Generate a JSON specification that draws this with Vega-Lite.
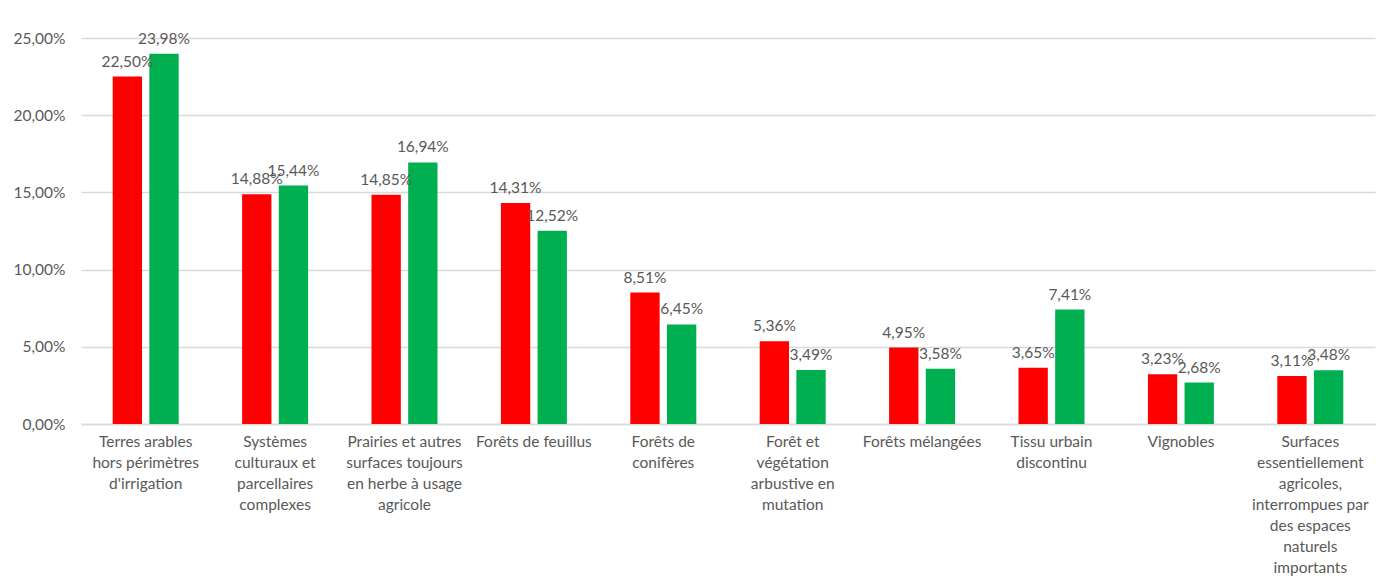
{
  "$schema": "https://vega.github.io/schema/vega-lite/v6.json",
  "autosize": {"type": "none"},
  "padding": {"left": 81, "top": 38, "right": 9, "bottom": 158},
  "width": 1294,
  "height": 386,
  "background": "white",
  "config": {
    "locale": {"number": {"decimal": ",", "thousands": " ", "grouping": [3], "currency": ["", " €"]}},
    "view": {"stroke": null},
    "font": "Lato"
  },
  "data": {
    "values": [
      {"categorie": "Terres arables\nhors périmètres\nd'irrigation", "serie": "Série 1", "part": 0.2250},
      {"categorie": "Terres arables\nhors périmètres\nd'irrigation", "serie": "Série 2", "part": 0.2398},
      {"categorie": "Systèmes\nculturaux et\nparcellaires\ncomplexes", "serie": "Série 1", "part": 0.1488},
      {"categorie": "Systèmes\nculturaux et\nparcellaires\ncomplexes", "serie": "Série 2", "part": 0.1544},
      {"categorie": "Prairies et autres\nsurfaces toujours\nen herbe à usage\nagricole", "serie": "Série 1", "part": 0.1485},
      {"categorie": "Prairies et autres\nsurfaces toujours\nen herbe à usage\nagricole", "serie": "Série 2", "part": 0.1694},
      {"categorie": "Forêts de feuillus", "serie": "Série 1", "part": 0.1431},
      {"categorie": "Forêts de feuillus", "serie": "Série 2", "part": 0.1252},
      {"categorie": "Forêts de\nconifères", "serie": "Série 1", "part": 0.0851},
      {"categorie": "Forêts de\nconifères", "serie": "Série 2", "part": 0.0645},
      {"categorie": "Forêt et\nvégétation\narbustive en\nmutation", "serie": "Série 1", "part": 0.0536},
      {"categorie": "Forêt et\nvégétation\narbustive en\nmutation", "serie": "Série 2", "part": 0.0349},
      {"categorie": "Forêts mélangées", "serie": "Série 1", "part": 0.0495},
      {"categorie": "Forêts mélangées", "serie": "Série 2", "part": 0.0358},
      {"categorie": "Tissu urbain\ndiscontinu", "serie": "Série 1", "part": 0.0365},
      {"categorie": "Tissu urbain\ndiscontinu", "serie": "Série 2", "part": 0.0741},
      {"categorie": "Vignobles", "serie": "Série 1", "part": 0.0323},
      {"categorie": "Vignobles", "serie": "Série 2", "part": 0.0268},
      {"categorie": "Surfaces\nessentiellement\nagricoles,\ninterrompues par\ndes espaces\nnaturels\nimportants", "serie": "Série 1", "part": 0.0311},
      {"categorie": "Surfaces\nessentiellement\nagricoles,\ninterrompues par\ndes espaces\nnaturels\nimportants", "serie": "Série 2", "part": 0.0348}
    ]
  },
  "encoding": {
    "x": {
      "field": "categorie",
      "type": "nominal",
      "sort": null,
      "title": null,
      "scale": {"paddingInner": 0.49, "paddingOuter": 0.245},
      "axis": {
        "labelAngle": 0,
        "labelExpr": "split(datum.label, '\\n')",
        "labelFontSize": 15.5,
        "labelColor": "#595959",
        "labelLineHeight": 21,
        "labelPadding": 10,
        "labelLimit": 200,
        "labelBaseline": "top",
        "labelOverlap": false,
        "ticks": false,
        "domainColor": "#d9d9d9",
        "domainWidth": 1.5
      }
    },
    "xOffset": {"field": "serie", "type": "nominal", "scale": {"paddingInner": 0.2}},
    "y": {
      "field": "part",
      "type": "quantitative",
      "title": null,
      "scale": {"domain": [0, 0.25], "nice": false},
      "axis": {
        "format": ".2%",
        "values": [0, 0.05, 0.1, 0.15, 0.2, 0.25],
        "labelFontSize": 15.5,
        "labelColor": "#595959",
        "labelPadding": 16,
        "labelOverlap": false,
        "labelFlush": false,
        "ticks": false,
        "domain": false,
        "gridColor": "#d9d9d9",
        "gridWidth": 1.5
      }
    }
  },
  "layer": [
    {
      "mark": {"type": "bar"},
      "encoding": {
        "color": {
          "field": "serie",
          "type": "nominal",
          "scale": {"range": ["#ff0000", "#00b050"]},
          "legend": null
        }
      }
    },
    {
      "mark": {"type": "text", "baseline": "bottom", "dy": -7, "fontSize": 15.5, "color": "#595959"},
      "encoding": {
        "text": {"field": "part", "type": "quantitative", "format": ".2%"}
      }
    }
  ]
}
